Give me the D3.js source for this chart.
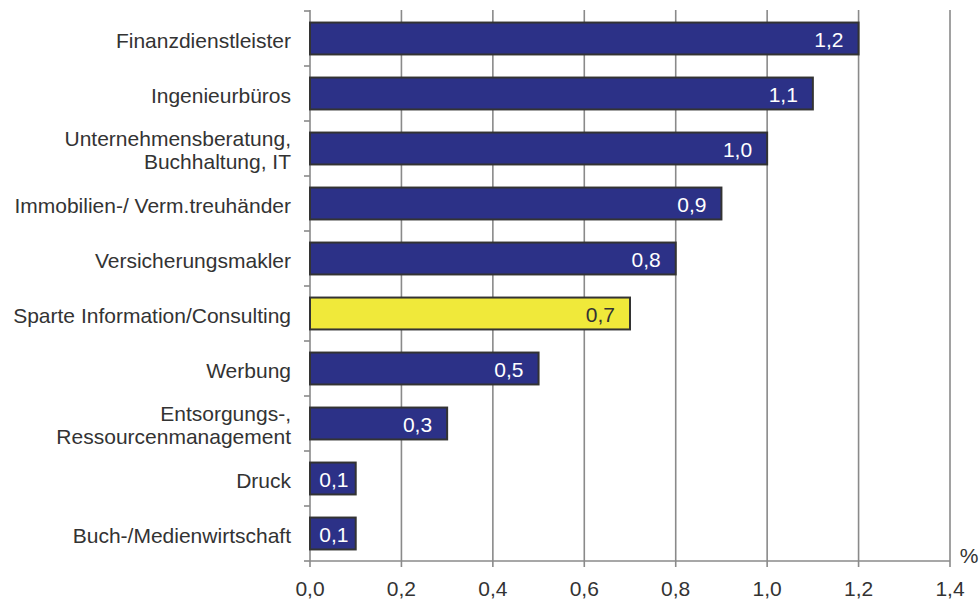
<!DOCTYPE html>
<html><head><meta charset="utf-8">
<script src="https://cdn.jsdelivr.net/npm/d3@7"></script>
<style>body{margin:0;background:#fff;}svg{display:block;font-family:"Liberation Sans",Arial,sans-serif;}</style>
</head><body>
<svg id="c" width="979" height="601"></svg>
<script>
const categories = [
  ["Finanzdienstleister"],
  ["Ingenieurbüros"],
  ["Unternehmensberatung,", "Buchhaltung, IT"],
  ["Immobilien-/ Verm.treuhänder"],
  ["Versicherungsmakler"],
  ["Sparte Information/Consulting"],
  ["Werbung"],
  ["Entsorgungs-,", "Ressourcenmanagement"],
  ["Druck"],
  ["Buch-/Medienwirtschaft"]
];
const values = [1.2, 1.1, 1.0, 0.9, 0.8, 0.7, 0.5, 0.3, 0.1, 0.1];
const highlight = [false, false, false, false, false, true, false, false, false, false];
const xTicks = [0, 0.2, 0.4, 0.6, 0.8, 1.0, 1.2, 1.4];
const unitLabel = "%";

(function () {
const svg = d3.select("#c");
const pL = 310, pR = 950, pT = 11, pB = 561;
const x = d3.scaleLinear().domain([0, 1.4]).range([pL, pR]);
const y = d3.scaleBand().domain(d3.range(categories.length)).range([pT, pB]).paddingInner(0.42).paddingOuter(0.21);
const fmt = v => d3.format(".1f")(v).replace(".", ",");
const grid = "#8a8a8a";
const txt = "#333";

// vertical grid lines
svg.append("g").selectAll("line").data(xTicks.slice(1)).join("line")
  .attr("x1", d => x(d)).attr("x2", d => x(d))
  .attr("y1", pT - 1).attr("y2", pB + 6)
  .attr("stroke", grid).attr("stroke-width", 1.6);

// bottom axis
svg.append("line").attr("x1", pL).attr("x2", pR).attr("y1", pB).attr("y2", pB)
  .attr("stroke", grid).attr("stroke-width", 1.6);
svg.append("line").attr("x1", pL).attr("x2", pL).attr("y1", pB).attr("y2", pB + 6)
  .attr("stroke", grid).attr("stroke-width", 1.6);
svg.append("g").selectAll("text").data(xTicks).join("text")
  .attr("x", d => x(d)).attr("y", 596).attr("text-anchor", "middle")
  .attr("font-size", 21).attr("fill", txt).text(fmt);
svg.append("text").attr("x", 969).attr("y", 563).attr("text-anchor", "middle")
  .attr("font-size", 21).attr("fill", txt).text(unitLabel);

// left axis
svg.append("line").attr("x1", pL).attr("x2", pL).attr("y1", pT - 1).attr("y2", pB)
  .attr("stroke", grid).attr("stroke-width", 1.6);
const step = y.step();
svg.append("g").selectAll("line").data(d3.range(categories.length + 1)).join("line")
  .attr("x1", pL - 6).attr("x2", pL)
  .attr("y1", d => pT + d * step).attr("y2", d => pT + d * step)
  .attr("stroke", grid).attr("stroke-width", 1.6);

// bars
const bars = svg.append("g").selectAll("g").data(values).join("g");
bars.append("rect")
  .attr("x", x(0)).attr("y", (d, i) => y(i))
  .attr("width", d => x(d) - x(0)).attr("height", y.bandwidth())
  .attr("fill", (d, i) => highlight[i] ? "#f0e93a" : "#2c3187")
  .attr("stroke", "#333").attr("stroke-width", 2);
const narrow = d => x(d) - x(0) < 70;
bars.append("text")
  .attr("x", d => narrow(d) ? (x(0) + x(d)) / 2 + 1 : x(d) - 15)
  .attr("y", (d, i) => y(i) + y.bandwidth() / 2 + 8.5)
  .attr("text-anchor", d => narrow(d) ? "middle" : "end").attr("font-size", 21)
  .attr("fill", (d, i) => highlight[i] ? "#333" : "#fff").text(fmt);

// category labels
const labs = svg.append("g").selectAll("text").data(categories).join("text")
  .attr("text-anchor", "end").attr("font-size", 21).attr("fill", txt)
  .attr("transform", (d, i) => `translate(291,${y(i) + y.bandwidth() / 2})`);
labs.selectAll("tspan").data(d => d.map((t, j) => ({t, j, n: d.length}))).join("tspan")
  .attr("x", 0).attr("y", d => (d.j - (d.n - 1) / 2) * 23.5 + 9).text(d => d.t);
})();
</script>
</body></html>
